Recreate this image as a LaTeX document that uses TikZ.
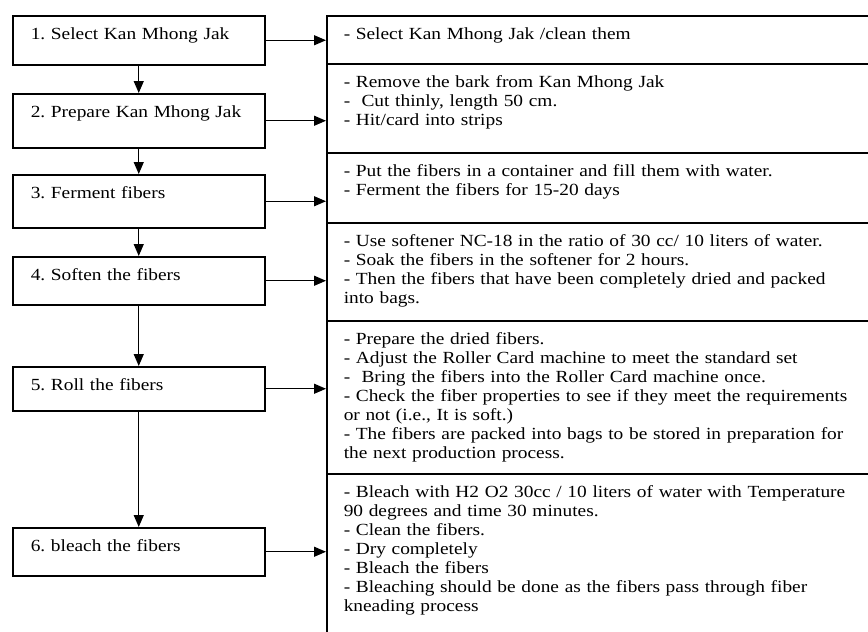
\documentclass[tikz,border=0pt]{standalone}
\usepackage{fontspec}
\setmainfont[FakeStretch=1.14]{Liberation Serif}
\usetikzlibrary{arrows.meta}
\frenchspacing

\begin{document}
\begin{tikzpicture}[x=1pt, y=-1pt,
    stepbox/.style={draw, line width=1.5pt, anchor=north west, align=left,
        text width=216pt, inner xsep=18pt, inner ysep=0pt, text height=24pt,
        font=\rmfamily\fontsize{17}{19}\selectfont},
    detailrow/.style={draw, line width=1.5pt, anchor=north west, align=left,
        text width=580pt, inner xsep=17pt, inner ysep=0pt, text height=23.5pt,
        font=\rmfamily\fontsize{17}{19}\selectfont},
    flow/.style={line width=1.2pt, -{Triangle[length=12pt, width=10pt]}}]
    \useasboundingbox (0,0) rectangle (868,632);
    \clip (0,0) rectangle (868,632);

    % steps
    \node[stepbox, text depth=25pt] (s1) at (12,15) {1. Select Kan Mhong Jak};
    \node[stepbox, text depth=30pt] (s2) at (12,93) {2. Prepare Kan Mhong Jak};
    \node[stepbox, text depth=29pt] (s3) at (12,174) {3. Ferment fibers};
    \node[stepbox, text depth=24pt] (s4) at (12,256) {4. Soften the fibers};
    \node[stepbox, text depth=20pt] (s5) at (12,366) {5. Roll the fibers};
    \node[stepbox, text depth=24pt] (s6) at (12,527) {6. bleach the fibers};

    % details
    \node[detailrow, text depth=24.5pt] (d1) at (326,15) {- Select Kan Mhong Jak /clean them};
    \node[detailrow, text depth=65.5pt] (d2) at (326,63) {- Remove the bark from Kan Mhong Jak\\
        -\ \ Cut thinly, length 50 cm.\\
        - Hit/card into strips};
    \node[detailrow, text depth=46.5pt] (d3) at (326,152) {- Put the fibers in a container and fill them with water.\\
        - Ferment the fibers for 15-20 days};
    \node[detailrow, text depth=74.5pt] (d4) at (326,222) {- Use softener NC-18 in the ratio of 30 cc/ 10 liters of water.\\
        - Soak the fibers in the softener for 2 hours.\\
        - Then the fibers that have been completely dried and packed\\
        into bags.};
    \node[detailrow, text depth=129.5pt] (d5) at (326,320) {- Prepare the dried fibers.\\
        - Adjust the Roller Card machine to meet the standard set\\
        -\ \ Bring the fibers into the Roller Card machine once.\\
        - Check the fiber properties to see if they meet the requirements\\
        or not (i.e., It is soft.)\\
        - The fibers are packed into bags to be stored in preparation for\\
        the next production process.};
    \node[detailrow, text depth=153.5pt] (d6) at (326,473) {- Bleach with H2 O2 30cc / 10 liters of water with Temperature\\
        90 degrees and time 30 minutes.\\
        - Clean the fibers.\\
        - Dry completely\\
        - Bleach the fibers\\
        - Bleaching should be done as the fibers pass through fiber\\
        kneading process};

    \foreach \a/\b in {s1/s2, s2/s3, s3/s4, s4/s5, s5/s6}
        \draw[flow] (\a) -- (\b);
    \foreach \i in {1,...,6}
        \draw[flow] (s\i.east) -- (s\i.east -| d\i.west);
\end{tikzpicture}
\end{document}
